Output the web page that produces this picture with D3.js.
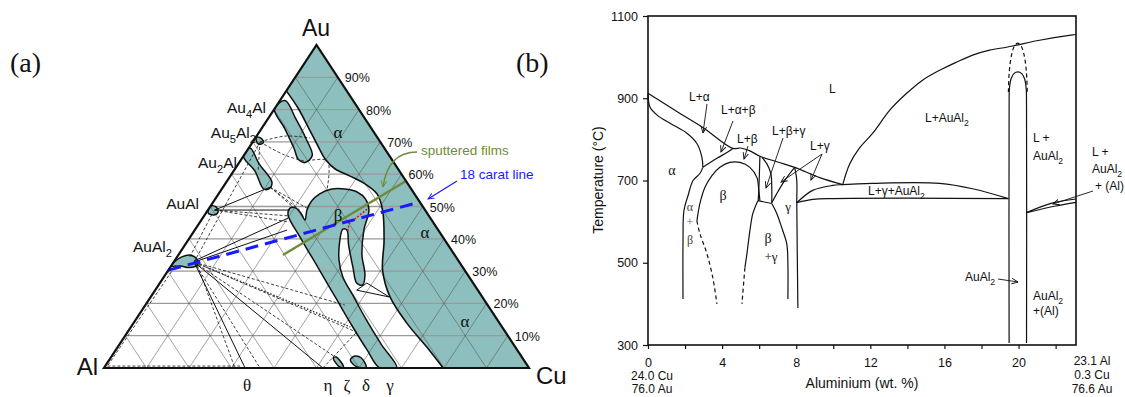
<!DOCTYPE html>
<html>
<head>
<meta charset="utf-8">
<script src="https://cdn.jsdelivr.net/npm/d3@7"></script>
<style>
  body { margin: 0; background: #fff; }
  svg { display: block; font-family: Arial, "Liberation Sans", sans-serif; }
</style>
</head>
<body>
<svg id="chart" width="1125" height="397"></svg>
<script>
// ---------- (a) ternary Au-Cu-Al : points are [Cu %, Au %] ----------
const percentTicks = [10, 20, 30, 40, 50, 60, 70, 80, 90];

const alphaEdge = [[0,85.8],[5.4,80.5],[11,74.3],[16,68.7],[20,64.4],[23.6,61.6],[28.2,59.4],[32.9,57],
  [37.3,53.9],[41.1,48.9],[46.1,39.6],[50.4,30.3],[56.3,22],[64.3,13.9],[72.7,6.5],[79.8,0]];
const au4alBand = [[0,80.2],[5.4,74.2],[10.8,67.9],[13.4,64.6],[15.5,63.6],[16.1,65.8],[12.2,70.8],[6.6,77.1],[1.2,82.8]];
const au5al2Blob = [[0.2,71.5],[1.7,70.9],[2.6,69.7],[1.8,69.3],[0.7,70.3]];
const au2alBand = [[0,65.6],[5,61],[9.9,55.4],[11.2,55.7],[10.7,57.6],[4.9,63.2],[0.3,68.1]];
const auAlBlob = [[0.1,50.2],[1.5,49.8],[2.7,48.3],[2.2,47.4],[0.5,48]];
const auAl2Blob = [[0.1,32.8],[1.1,34.4],[3,34.9],[5.1,33.6],[6,31.9],[4.4,31.1],[2.2,31.6],[0,31.6]];
const betaHook = [[64.9,0],[59.1,5.6],[51.9,13],[43.4,22],[34.9,31],[25.8,40.6],[19.6,47.4],[19,49.5],[20.4,49.5],
  [22.6,47.7],[24.4,45.8],[23.3,48.9],[23,51.7],[23.8,53.9],[25.9,55.4],[29,55.4],[32.3,54.5],[35.4,52.3],
  [37.9,48.9],[39.8,42.7],[43.2,35],[47,28.8],[48,25.7],[46.3,26.3],[43.1,31],[38.5,38.1],[35.8,42.7],
  [34.7,43],[35.7,39.6],[38.6,33.4],[42.1,28.2],[47.5,22.3],[54,15.2],[61.5,7.4],[68.9,0]];
const deltaBlob = [[56.7,2.5],[57.2,3.7],[59,3.1],[61.5,0.3],[59.4,0.3]];
const etaSliver = [[52.4,3.1],[52.9,3.4],[56.2,0.3],[55.3,0.3]];

const tieSolid = [
  [[4.8,32.8],[33.2,0]], [[4.8,32.8],[51.5,0]], [[4.6,33.1],[20.1,46.4]], [[4.8,32.8],[21.7,42.7]],
  [[1.6,48.9],[11.1,56]], [[1.6,48.9],[19.3,48.9]],
  [[47.4,24.1],[56.1,22],[48.7,26.3],[47.4,24.1]]
];
const tieDashed = [
  [[0.5,0.9],[1,31.9]], [[0.5,0.6],[31.7,0.6]], [[6,31.9],[30.8,0]], [[4.8,32.8],[36.7,0]],
  [[3,34.4],[1.6,47.7]], [[4.8,32.8],[1.8,69.3]], [[4.8,32.8],[52.7,3.4]], [[4.8,32.8],[53.9,11.1]],
  [[4.8,32.8],[46.9,19.5]], [[1.6,48.9],[19.8,47.1]], [[1.6,48.9],[20.9,45.2]],
  [[11.1,56],[23,49.5]], [[11.1,56],[21.6,48.9]], [[11.1,56],[19.6,49.8]],
  [[1.7,70],[6.7,71.8],[12.9,71.2]], [[1.7,70],[9.6,65.9],[15.9,63.8]], [[1.7,70],[5.9,60.7]],
  [[15.8,64.1],[20.5,64.1],[24.9,55.1]], [[51.5,0],[53.9,11.1]]
];
const tieDotted = [[[4.8,32.8],[51.6,12.7]]];
const redNotch = [[37.3,49.2],[35.3,44.6],[36.2,42.4]];
const caratLine = [[0,30.3],[48.6,51.4]];
const filmLine = [[24.6,35],[42.1,57.9]];

// ---------- (b) binary section : points are [Al wt %, T °C] ----------
const xTicks = [0, 2, 4, 6, 8, 10, 12, 14, 16, 18, 20, 22];
const yTicks = [300, 500, 700, 900, 1100];

const liquidus = [[0,912],[1.73,863],[2.96,829],[4.58,778],[5.0,779],[5.5,772],[6.04,759],[7.0,745],[7.92,732],[9.27,707],[10.51,690]];
const liquidusAuAl2 = [[10.51,690],[10.89,741],[11.43,780],[12.13,815],[13.05,871],[13.96,912],[14.82,944],[15.74,968],
  [16.66,988],[17.52,1005],[18.44,1017],[19.35,1024],[19.89,1029],[21.13,1041],[22.91,1054],[23.1,1055]];
const solidusAlpha = [[0,910],[0.11,878],[0.49,859],[1.19,839],[2.10,815],[2.64,790],[2.91,756],[2.96,732]];
const lpaArc = [[2.96,732],[3.72,754],[4.26,768],[4.58,778]];
const alphaSolvus = [[1.89,412],[1.89,554],[1.94,627],[2.16,663],[2.43,700],[2.80,717],[2.96,732]];
const betaDome = [[2.64,602],[2.70,620],[2.80,644],[3.07,683],[3.45,712],[3.88,732],[4.42,744],[4.96,744],[5.50,732],[5.88,707],[5.98,676],[6.04,651]];
const betaLeftDash = [[2.64,602],[2.80,571],[3.18,522],[3.50,463],[3.72,400]];
const betaRight = [[5.93,651],[5.66,620],[5.50,578],[5.34,522],[5.23,488]];
const betaRightDash = [[5.23,488],[5.07,400]];
const eutectoid = [[5.93,651],[6.68,644]];
const lbgLeft = [[6.04,759],[6.0,700],[5.95,651]];
const lbgRight = [[6.15,756],[6.41,741],[6.63,717],[6.68,683],[6.68,646]];
const gammaTop = [[6.68,646],[6.95,668],[7.28,693],[7.65,717],[7.92,732]];
const bgRight = [[6.68,644],[6.95,620],[7.22,585],[7.49,546],[7.55,498],[7.55,412]];
const gammaRight = [[7.92,732],[8.03,700],[8.03,646],[8.09,390]];
const lgaTop = [[8.03,646],[8.89,676],[9.97,688],[10.51,690],[12.13,693],[15.74,693],[17.52,680],[19.45,656]];
const lgaBottom = [[8.03,646],[8.9,654],[10,656],[14,657],[19.45,656]];
const auAl2Band = [[19.49,305],[19.49,880],[19.51,925],[19.6,948],[19.75,960],[19.96,964],[20.17,960],[20.32,948],[20.41,925],[20.43,880],[20.43,305]];
const auAl2Dash = [[19.45,915],[19.5,965],[19.62,1005],[19.78,1027],[19.96,1034],[20.14,1027],[20.3,1005],[20.42,965],[20.47,915]];
const lensUpper = [[20.43,622],[21.8,645],[23.1,655]];
const lensLower = [[20.43,622],[22.0,638],[23.1,647]];

// ---------- drawing ----------
const svg = d3.select("#chart");
const teal = "#8cbfbd";
const ink = "#111";

// subscript helper : "AuAl_2"
function chem(g, x, y, str, fs, anchor, color, family) {
  const t = g.append("text").attr("x", x).attr("y", y)
    .attr("font-size", fs).attr("text-anchor", anchor || "start").attr("fill", color || ink);
  if (family) t.attr("font-family", family);
  let shift = 0;
  str.split(/(_\d)/).filter(s => s.length).forEach(p => {
    const sub = p[0] === "_";
    const target = sub ? fs * 0.3 : 0;
    t.append("tspan").attr("dy", target - shift).attr("font-size", sub ? fs * 0.72 : fs).text(sub ? p.slice(1) : p);
    shift = target;
  });
  return t;
}

const defs = svg.append("defs");
function marker(id, color) {
  defs.append("marker").attr("id", id).attr("viewBox", "0 0 10 10")
    .attr("refX", 9).attr("refY", 5).attr("markerWidth", 7).attr("markerHeight", 7)
    .attr("markerUnits", "userSpaceOnUse").attr("orient", "auto")
    .append("path").attr("d", "M0,1 L9,5 L0,9").attr("fill", "none").attr("stroke", color).attr("stroke-width", 1.3);
}
marker("arrK", ink);
marker("arrB", "#1a1aff");
marker("arrG", "#6f8a3a");

// ----- (a) -----
const tAu = d3.scaleLinear().domain([0, 100]).range([368, 45]);
const tX = d3.scaleLinear().domain([0, 100]).range([104, 529]);
const proj = d => [tX(d[0] + d[1] / 2), tAu(d[1])];

const lineLin = d3.line().x(d => proj(d)[0]).y(d => proj(d)[1]);
const lineSmooth = d3.line().x(d => proj(d)[0]).y(d => proj(d)[1]).curve(d3.curveCatmullRom.alpha(0.5));
const lineClosed = d3.line().x(d => proj(d)[0]).y(d => proj(d)[1]).curve(d3.curveCatmullRomClosed.alpha(0.5));

const triangle = [[0, 0], [100, 0], [0, 100]];
defs.append("clipPath").attr("id", "tri").append("path").attr("d", lineLin(triangle) + "Z");

const ga = svg.append("g");
const inner = ga.append("g").attr("clip-path", "url(#tri)");

const alphaPath = lineSmooth(alphaEdge) + "L" + proj([100, 0]) + "L" + proj([0, 100]) + "Z";
inner.append("path").attr("d", alphaPath).attr("fill", teal);
const blobs = [au4alBand, au5al2Blob, au2alBand, auAlBlob, auAl2Blob, betaHook, deltaBlob, etaSliver];
inner.selectAll(".blob").data(blobs).enter().append("path")
  .attr("d", d => lineClosed(d)).attr("fill", teal);

// grid
const gridH = percentTicks.map(i => [[0, i], [100 - i, i]]);
const gridD = percentTicks.flatMap(i => [[[i, 0], [i, 100 - i]], [[100 - i, 0], [0, 100 - i]]]);
inner.selectAll(".gh").data(gridH).enter().append("path")
  .attr("d", lineLin).attr("stroke", "#9a9a9a").attr("stroke-width", 1.3).attr("fill", "none");
inner.selectAll(".gd").data(gridD).enter().append("path")
  .attr("d", lineLin).attr("stroke", "#555").attr("stroke-width", 0.55).attr("fill", "none");

// tie lines
inner.selectAll(".ts").data(tieSolid).enter().append("path")
  .attr("d", lineLin).attr("fill", "none").attr("stroke", ink).attr("stroke-width", 1);
inner.selectAll(".td").data(tieDashed).enter().append("path")
  .attr("d", d => d.length > 2 ? lineSmooth(d) : lineLin(d)).attr("fill", "none")
  .attr("stroke", ink).attr("stroke-width", 0.8).attr("stroke-dasharray", "3,2");
inner.selectAll(".tdot").data(tieDotted).enter().append("path")
  .attr("d", lineLin).attr("fill", "none").attr("stroke", "#333").attr("stroke-width", 1.4).attr("stroke-dasharray", "1.5,1.8");

// phase outlines
inner.append("path").attr("d", lineSmooth(alphaEdge)).attr("fill", "none").attr("stroke", ink).attr("stroke-width", 1.6);
inner.selectAll(".bo").data(blobs).enter().append("path")
  .attr("d", d => lineClosed(d)).attr("fill", "none").attr("stroke", ink).attr("stroke-width", 1.5);

// sputtered films and 18 carat lines
ga.append("path").attr("d", lineLin(filmLine)).attr("stroke", "#6f8a3a").attr("stroke-width", 2.4).attr("fill", "none");
ga.append("path").attr("d", lineLin(redNotch)).attr("stroke", "#e01010").attr("stroke-width", 1.4)
  .attr("stroke-dasharray", "2,1.6").attr("fill", "none");
ga.append("path").attr("d", lineLin(caratLine)).attr("stroke", "#1a1aff").attr("stroke-width", 3)
  .attr("stroke-dasharray", "13,7").attr("fill", "none");

// triangle frame
ga.append("path").attr("d", lineLin(triangle) + "Z").attr("fill", "none").attr("stroke", ink).attr("stroke-width", 2.2);

// percent labels along the Au-Cu side
ga.selectAll(".pct").data(percentTicks).enter().append("text")
  .attr("x", d => proj([100 - d, d])[0] + 7).attr("y", d => proj([100 - d, d])[1] + 5)
  .attr("font-size", 12.5).attr("fill", ink).text(d => d + "%");

// corner and compound labels
const serif = "Liberation Serif, Times New Roman, serif";
ga.append("text").attr("x", 10).attr("y", 72).attr("font-family", serif)
  .attr("font-size", 28).attr("fill", ink).text("(a)");
ga.append("text").attr("x", 316).attr("y", 36).attr("text-anchor", "middle").attr("font-size", 23).attr("fill", ink).text("Au");
ga.append("text").attr("x", 98).attr("y", 375).attr("text-anchor", "end").attr("font-size", 24).attr("fill", ink).text("Al");
ga.append("text").attr("x", 536).attr("y", 384).attr("font-size", 24).attr("fill", ink).text("Cu");

const compounds = [["Au_4Al", 266, 113], ["Au_5Al_2", 256, 138], ["Au_2Al", 237, 168], ["AuAl", 199, 209], ["AuAl_2", 172, 252]];
compounds.forEach(c => chem(ga, c[1], c[2], c[0], 15.5, "end"));

const greekA = [["α", 338, 138], ["α", 425, 238], ["α", 465, 327], ["β", 338, 221],
  ["θ", 247, 391], ["η", 328, 391], ["ζ", 347, 391], ["δ", 366, 391], ["γ", 390, 391]];
ga.selectAll(".gk").data(greekA).enter().append("text")
  .attr("x", d => d[1]).attr("y", d => d[2]).attr("text-anchor", "middle")
  .attr("font-family", serif).attr("font-size", 17).attr("fill", ink).text(d => d[0]);

ga.append("text").attr("x", 421).attr("y", 155).attr("font-size", 13.5).attr("fill", "#6f8a3a").text("sputtered films");
ga.append("path").attr("d", "M417,152 Q388,152 383,187").attr("fill", "none")
  .attr("stroke", "#6f8a3a").attr("stroke-width", 1.4).attr("marker-end", "url(#arrG)");
ga.append("text").attr("x", 460).attr("y", 179).attr("font-size", 13.5).attr("fill", "#1a1aff").text("18 carat line");
ga.append("path").attr("d", "M457,181 L428,199").attr("fill", "none")
  .attr("stroke", "#1a1aff").attr("stroke-width", 1.2).attr("marker-end", "url(#arrB)");

// ----- (b) -----
const gb = svg.append("g");
const bx = d3.scaleLinear().domain([0, 23.1]).range([648, 1076]);
const by = d3.scaleLinear().domain([300, 1100]).range([345, 16]);
const bLine = d3.line().x(d => bx(d[0])).y(d => by(d[1])).curve(d3.curveCatmullRom.alpha(0.5));

gb.append("text").attr("x", 516).attr("y", 72).attr("font-family", serif)
  .attr("font-size", 28).attr("fill", ink).text("(b)");

const xAxis = gb.append("g").attr("transform", "translate(0,345)")
  .call(d3.axisBottom(bx).tickValues(xTicks).tickSize(4).tickPadding(9).tickFormat(d => d % 4 === 0 ? d : ""));
const yAxis = gb.append("g").attr("transform", "translate(648,0)")
  .call(d3.axisLeft(by).tickValues(yTicks).tickSize(5).tickPadding(5).tickFormat(d3.format("d")));
[xAxis, yAxis].forEach(a => {
  a.select(".domain").remove();
  a.selectAll("line").attr("stroke", ink).attr("stroke-width", 1.2);
  a.selectAll("text").attr("font-size", 12.5).attr("font-family", "Arial, Liberation Sans, sans-serif").attr("fill", ink);
});
gb.append("rect").attr("x", bx(0)).attr("y", by(1100)).attr("width", bx(23.1) - bx(0)).attr("height", by(300) - by(1100))
  .attr("fill", "none").attr("stroke", ink).attr("stroke-width", 1.6);

const bSolid = [liquidus, liquidusAuAl2, solidusAlpha, lpaArc, alphaSolvus, betaDome, betaRight, eutectoid, lbgLeft,
  lbgRight, gammaTop, bgRight, gammaRight, lgaTop, lgaBottom, auAl2Band, lensUpper, lensLower];
const bDashed = [betaLeftDash, betaRightDash, auAl2Dash];
gb.selectAll(".bs").data(bSolid).enter().append("path")
  .attr("d", bLine).attr("fill", "none").attr("stroke", ink).attr("stroke-width", 1.2);
gb.selectAll(".bd").data(bDashed).enter().append("path")
  .attr("d", bLine).attr("fill", "none").attr("stroke", ink).attr("stroke-width", 1.2).attr("stroke-dasharray", "4,3");

// axis titles and end compositions
gb.append("text").attr("x", 862).attr("y", 388).attr("text-anchor", "middle").attr("font-size", 14).attr("fill", ink).text("Aluminium (wt. %)");
gb.append("text").attr("transform", "translate(603,180) rotate(-90)").attr("text-anchor", "middle")
  .attr("font-size", 14).attr("fill", ink).text("Temperature (°C)");
[["24.0 Cu", 652, 380], ["76.0 Au", 652, 393], ["23.1 Al", 1092, 365], ["0.3 Cu", 1092, 379], ["76.6 Au", 1092, 393]]
  .forEach(d => gb.append("text").attr("x", d[1]).attr("y", d[2]).attr("text-anchor", "middle")
    .attr("font-size", 12).attr("fill", ink).text(d[0]));

// region labels
const bLabels = [["L", 829, 93], ["L+α", 689, 101], ["L+α+β", 721, 114], ["L+β", 737, 143], ["L+β+γ", 772, 135],
  ["L+γ", 810, 150], ["L+AuAl_2", 925, 122], ["L+γ+AuAl_2", 868, 195], ["L +", 1033, 142], ["AuAl_2", 1033, 160],
  ["L +", 1092, 156], ["AuAl_2", 1092, 173], ["+ (Al)", 1095, 190], ["AuAl_2", 965, 281], ["AuAl_2", 1033, 300], ["+(Al)", 1033, 315]];
bLabels.forEach(d => chem(gb, d[1], d[2], d[0], 12, "start"));

const bGreek = [["α", 672, 175, 14, ink], ["β", 723, 200, 14, ink], ["γ", 788, 211, 13, ink],
  ["α", 690, 211, 12, "#444"], ["+", 690, 226, 12, "#666"], ["β", 690, 244, 12, "#444"],
  ["β", 768, 243, 14, ink], ["+γ", 771, 261, 13, ink]];
bGreek.forEach(d => gb.append("text").attr("x", d[1]).attr("y", d[2]).attr("text-anchor", "middle")
  .attr("font-family", serif).attr("font-size", d[3]).attr("fill", d[4]).text(d[0]));

const bArrows = [[[707,104],[703,133]], [[733,121],[721,152]], [[748,146],[744,159]], [[783,138],[766,188]],
  [[822,154],[781,182]], [[822,154],[811,180]], [[1093,191],[1053,204]], [[998,279],[1018,282]]];
gb.selectAll(".ar").data(bArrows).enter().append("path")
  .attr("d", d => "M" + d[0] + "L" + d[1]).attr("fill", "none").attr("stroke", ink)
  .attr("stroke-width", 0.9).attr("marker-end", "url(#arrK)");
</script>
</body>
</html>
